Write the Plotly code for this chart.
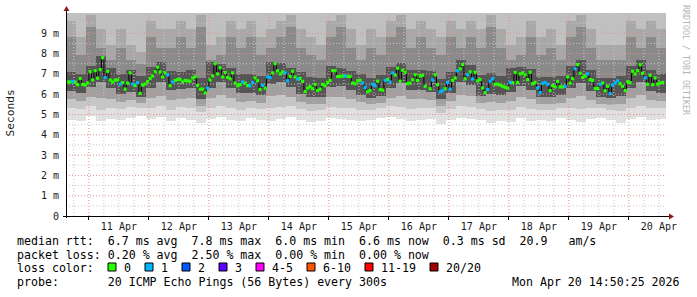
import pandas as pd
import plotly.graph_objects as go

# ---------------- data ----------------
T_START = pd.Timestamp("2026-04-10 14:50:25")
T_END = pd.Timestamp("2026-04-20 14:50:25")
STEP_START = pd.Timestamp("2026-04-10 15:00")   # first 1-hour median step

# median RTT per hour (ms); None = missing sample
median_ms = [
    6.6, 6.6, 6.63, 6.6, 6.47, 6.77, 6.48, 6.45, 6.56, 7.11,
    6.7, 7.16, 6.79, 7.21, 7.8, 6.82, 7.13, 6.7, 6.6, 6.7,
    6.7, 6.5, 6.57, 6.25, 6.55, 7.05, 6.5, 6.43, 6.57, 6.04,
    6.45, 6.5, 6.62, 6.77, 6.9, 7.11, 7.33, 7.1, 6.85, 7.05,
    6.95, 6.42, 6.6, 6.68, 6.72, 6.73, 6.6, 6.68, 6.66, 6.64,
    6.8, 6.86, 6.43, 6.25, 6.25, 6.07, 6.3, 6.7, 6.9, 7.5,
    7.0, 7.3, 6.85, 7.07, 6.83, 6.76, 7.05, 6.55, 6.42, 6.48,
    6.6, 6.55, 6.42, 6.42, 6.58, 6.8, 6.66, 6.23, 6.43, 6.3,
    6.85, 6.82, 7.05, 7.5, 7.15, 7.0, 7.1, 7.05, 6.66, 6.88,
    7.13, 6.85, 6.75, 6.78, 6.63, 6.13, 6.3, 6.37, 6.27, 6.48,
    6.18, 6.25, 6.48, 6.42, 6.58, 6.68, 7.16, 7.16, 6.87, 6.87,
    6.9, 6.9, 6.88, 6.87, 6.55, 6.52, 6.66, 6.68, 6.55, 6.33,
    6.12, 6.18, 6.49, 6.42, 6.64, 6.23, 6.2, 6.68, 6.72, 6.6,
    7.05, 6.95, 7.28, 6.64, 7.18, 7.08, 6.52, 6.55, 6.72, 6.96,
    6.68, 6.9, 6.93, 6.39, None, 6.27, 6.7, 6.95, 6.47, 6.12,
    6.17, 6.27, 6.58, 6.25, 6.68, 6.8, 7.15, 7.25, 7.46, 6.76,
    6.96, 7.1, 6.75, 7.08, 6.66, 6.72, 6.31, 6.08, 6.23, 6.64,
    6.76, 6.49, 6.49, 6.45, 6.39, 6.34, 6.3, 6.58, 6.57, 7.07,
    6.58, 7.0, 7.05, 6.95, 6.72, 7.08, 6.52, 6.58, 6.31, 6.08,
    6.54, 6.58, 6.49, 6.18, 6.42, 6.36, 6.63, 6.36, 6.36, 6.39,
    6.85, 6.55, 6.76, 7.25, 7.46, 7.03, 6.83, 6.9, 7.0, 6.72,
    6.68, 6.28, 6.28, 6.49, 6.55, 6.17, 6.39, 6.03, 6.45, 6.57,
    6.66, 6.52, 6.39, 6.18, 6.61, 6.57, 7.13, 7.0, 7.16, 7.45,
    7.03, 6.8, 6.49, 6.93, 6.47, 6.8, 6.5, 6.55, 6.58,
]

# lost pings (of 20) per hour
loss_pings = [
    0, 0, 1, 0, 0, 0, 0, 0, 0, 0,
    0, 0, 0, 0, 0, 1, 0, 0, 0, 0,
    0, 1, 0, 0, 0, 0, 1, 0, 1, 0,
    0, 0, 0, 0, 0, 0, 0, 0, 0, 0,
    1, 0, 1, 0, 0, 0, 0, 0, 0, 0,
    0, 0, 0, 0, 0, 0, 1, 0, 0, 0,
    0, 0, 0, 0, 0, 0, 0, 0, 0, 0,
    1, 0, 0, 1, 1, 0, 0, 0, 1, 0,
    1, 1, 0, 0, 0, 0, 0, 1, 1, 0,
    0, 0, 1, 0, 0, 0, 0, 0, 0, 0,
    0, 0, 0, 0, 0, 0, 0, 0, 0, 0,
    0, 1, 0, 0, 0, 0, 0, 0, 1, 1,
    0, 0, 1, 1, 0, 0, 0, 1, 0, 1,
    1, 0, 0, 0, 0, 0, 0, 0, 0, 0,
    0, 0, 0, 0, 0, 0, 1, 0, 0, 1,
    1, 0, 1, 1, 0, 0, 1, 0, 0, 0,
    1, 0, 1, 0, 0, 0, 0, 0, 1, 1,
    1, 0, 0, 0, 0, 0, 0, 1, 0, 0,
    0, 0, 0, 0, 0, 0, 0, 0, 1, 1,
    1, 1, 1, 0, 0, 0, 0, 0, 0, 1,
    0, 0, 0, 1, 0, 0, 0, 0, 1, 0,
    0, 0, 0, 1, 0, 0, 0, 1, 1, 1,
    1, 0, 0, 0, 0, 0, 0, 0, 0, 0,
    0, 1, 0, 0, 0, 0, 0, 0, 0,
]

# smoke (ping spread) per 4-hour column, ms: band edges from bottom to top
smoke_min = [4.75, 4.7, 4.95, 4.7, 4.8, 4.75, 4.85, 4.95, 4.8, 4.9,
             4.7, 4.85, 4.75, 4.6, 4.8, 4.9, 4.75, 4.7, 4.85, 4.75,
             4.7, 4.8, 4.9, 4.75, 4.65, 4.7, 4.85, 4.8, 4.75, 4.7,
             4.75, 4.85, 4.9, 4.8, 4.7, 4.75, 4.8, 4.55, 4.75, 4.85,
             4.8, 4.75, 4.6, 4.7, 4.65, 4.85, 4.7, 4.75, 4.7, 4.85,
             4.75, 4.65, 4.8, 4.85, 4.75, 4.6, 4.8, 4.9, 4.75, 4.8]
smoke_q1 = [5.3, 5.25, 5.4, 5.2, 5.3, 5.25, 5.35, 5.3, 5.3, 5.4,
            5.2, 5.35, 5.3, 5.1, 5.3, 5.4, 5.3, 5.2, 5.3, 5.25,
            5.3, 5.35, 5.4, 5.25, 5.15, 5.2, 5.35, 5.3, 5.3, 5.2,
            5.2, 5.3, 5.4, 5.35, 5.25, 5.3, 5.3, 5.05, 5.25, 5.4,
            5.35, 5.25, 5.15, 5.2, 5.2, 5.35, 5.25, 5.2, 5.2, 5.3,
            5.3, 5.25, 5.3, 5.3, 5.2, 5.15, 5.3, 5.4, 5.3, 5.3]
smoke_q2 = [5.75, 5.65, 5.85, 5.8, 5.75, 5.6, 5.7, 5.55, 5.8, 5.9,
            5.7, 5.75, 5.8, 5.4, 5.8, 5.95, 5.8, 5.6, 5.65, 5.55,
            5.9, 5.95, 5.85, 5.6, 5.5, 5.5, 5.85, 5.85, 5.75, 5.6,
            5.5, 5.55, 5.8, 5.9, 5.75, 5.75, 5.7, 5.4, 5.65, 5.95,
            5.9, 5.55, 5.6, 5.55, 5.65, 5.85, 5.75, 5.5, 5.5, 5.55,
            5.8, 5.9, 5.7, 5.5, 5.45, 5.5, 5.8, 5.95, 5.7, 5.65]
smoke_core_lo = [6.15, 6.05, 6.35, 6.6, 6.3, 6.0, 6.1, 5.85, 6.3, 6.6,
                 6.2, 6.25, 6.3, 5.75, 6.3, 6.6, 6.3, 6.05, 6.05, 5.95,
                 6.5, 6.6, 6.35, 6.0, 5.85, 5.85, 6.35, 6.4, 6.2, 5.95,
                 5.8, 5.9, 6.3, 6.55, 6.2, 6.2, 6.1, 5.75, 6.05, 6.6,
                 6.45, 5.9, 6.0, 5.95, 6.1, 6.4, 6.2, 5.85, 5.85, 5.95,
                 6.3, 6.55, 6.15, 5.85, 5.8, 5.9, 6.3, 6.6, 6.15, 6.05]
smoke_core_hi = [7.1, 7.0, 7.4, 7.9, 7.3, 7.0, 7.2, 6.9, 7.35, 7.6,
                 7.15, 7.1, 7.2, 6.8, 7.6, 7.5, 7.3, 7.0, 7.0, 6.9,
                 7.6, 7.55, 7.3, 7.1, 6.85, 6.8, 7.4, 7.3, 7.15, 7.0,
                 6.8, 6.95, 7.35, 7.55, 7.2, 7.2, 7.15, 6.75, 7.1, 7.7,
                 7.45, 6.95, 7.05, 6.9, 7.3, 7.35, 7.25, 6.85, 6.85, 6.9,
                 7.4, 7.7, 7.2, 6.8, 6.8, 6.9, 7.4, 7.7, 7.2, 7.0]
smoke_q5 = [8.8, 7.95, 9.3, 8.3, 7.7, 8.3, 7.7, 7.5, 8.8, 8.3,
            8.3, 8.8, 8.3, 9.3, 7.7, 7.95, 8.8, 8.3, 8.8, 7.95,
            8.3, 8.8, 9.3, 8.3, 7.95, 7.7, 8.8, 9.3, 8.3, 7.7,
            8.3, 7.95, 8.8, 9.3, 8.3, 8.8, 8.3, 7.95, 8.8, 8.3,
            8.8, 8.3, 9.3, 8.3, 7.7, 7.95, 8.8, 7.95, 8.3, 7.7,
            8.8, 9.3, 8.3, 7.7, 7.7, 7.7, 8.8, 8.3, 8.8, 8.3]
smoke_q6 = [9.6, 8.8, 9.9, 9.2, 8.4, 9.2, 8.4, 8.1, 9.6, 9.2,
            9.2, 9.6, 9.2, 9.9, 8.4, 8.8, 9.6, 9.2, 9.6, 8.8,
            9.2, 9.6, 9.9, 9.2, 8.8, 8.4, 9.6, 9.9, 9.2, 8.4,
            9.2, 8.8, 9.6, 9.9, 9.2, 9.6, 9.2, 8.8, 9.6, 9.2,
            9.6, 9.2, 9.9, 9.2, 8.4, 8.8, 9.6, 8.8, 9.2, 8.4,
            9.6, 9.9, 9.2, 8.4, 8.4, 8.4, 9.6, 9.2, 9.6, 9.2]

day_labels = ["11 Apr", "12 Apr", "13 Apr", "14 Apr", "15 Apr",
              "16 Apr", "17 Apr", "18 Apr", "19 Apr", "20 Apr"]
y_tick_vals = [0, 1, 2, 3, 4, 5, 6, 7, 8, 9]
y_tick_text = ["0", "1 m", "2 m", "3 m", "4 m", "5 m", "6 m", "7 m", "8 m", "9 m"]

stat_lines = [
    "median rtt:  6.7 ms avg  7.8 ms max  6.0 ms min  6.6 ms now  0.3 ms sd  20.9   am/s",
    "packet loss: 0.20 % avg  2.50 % max  0.00 % min  0.00 % now",
]
loss_legend = [("0", "#26ff00"), ("1", "#00b8ff"), ("2", "#0059ff"), ("3", "#5e00ff"),
               ("4-5", "#ff00ff"), ("6-10", "#ff5500"), ("11-19", "#ff0000"),
               ("20/20", "#a10000")]
probe_text = "probe:       20 ICMP Echo Pings (56 Bytes) every 300s"
stamp_text = "Mon Apr 20 14:50:25 2026"
watermark = "RRDTOOL / TOBI OETIKER"

# ---------------- layout constants ----------------
W, H = 697, 297
PL, PT, PW, PH = 66, 13, 600, 203
Y_TOP = 10.0
MONO = "DejaVu Sans Mono"


def px_x(x):
    return (x - PL) / PW


def px_y(y):
    return (PT + PH - y) / PH


def nb(s):
    return s.replace(" ", "\u00a0")


def loss_color(k):
    if k == 0:
        return "#26ff00"
    if k == 1:
        return "#00b8ff"
    if k == 2:
        return "#0059ff"
    if k == 3:
        return "#5e00ff"
    if k <= 5:
        return "#ff00ff"
    if k <= 10:
        return "#ff5500"
    if k <= 19:
        return "#ff0000"
    return "#a10000"


fig = go.Figure()

# ---- smoke ----
ncol = len(smoke_min)
col_t = pd.date_range(STEP_START + pd.Timedelta(hours=2), periods=ncol, freq="4h")
col_w = 4 * 3600 * 1000
top_edge = [Y_TOP] * ncol
bands = [
    (smoke_min, smoke_q1, "#e0e0e0"),
    (smoke_q1, smoke_q2, "#c6c6c6"),
    (smoke_q2, smoke_core_lo, "#a0a0a0"),
    (smoke_core_lo, smoke_core_hi, "#555555"),
    (smoke_core_hi, smoke_q5, "#8a8a8a"),
    (smoke_q5, smoke_q6, "#a8a8a8"),
    (smoke_q6, top_edge, "#c0c0c0"),
]
for lo, hi, col in bands:
    fig.add_trace(go.Bar(
        x=col_t, base=lo, y=[h - l for l, h in zip(lo, hi)], width=col_w,
        marker=dict(color=col, line=dict(width=0)), hoverinfo="skip",
        showlegend=False))

# ---- grid (above the smoke) ----
midnights = pd.date_range("2026-04-11", periods=10, freq="D")
six_h = [t for t in pd.date_range("2026-04-10 18:00", T_END, freq="6h") if t.hour != 0]


def vlines(ts):
    xs, ys = [], []
    for t in ts:
        xs += [t, t, None]
        ys += [0, Y_TOP, None]
    return xs, ys


def hlines(vs):
    xs, ys = [], []
    for v in vs:
        xs += [T_START, T_END, None]
        ys += [v, v, None]
    return xs, ys


minor_x, minor_y = vlines(six_h)
hx, hy = hlines([v + 0.5 for v in range(10)])
fig.add_trace(go.Scatter(x=minor_x + hx, y=minor_y + hy, mode="lines",
                         line=dict(color="#c8c8c8", width=1, dash="1px,2px"),
                         hoverinfo="skip", showlegend=False))
major_x, major_y = vlines(midnights)
hx, hy = hlines(range(1, 10))
fig.add_trace(go.Scatter(x=major_x + hx, y=major_y + hy, mode="lines",
                         line=dict(color="#e49090", width=1, dash="1px,2px"),
                         hoverinfo="skip", showlegend=False))

# ---- median ----
n = len(median_ms)
step_t = pd.date_range(STEP_START, periods=n, freq="h")
centers = step_t + pd.Timedelta(minutes=30)
fig.add_trace(go.Scatter(
    x=list(step_t) + [step_t[-1] + pd.Timedelta(hours=1)],
    y=median_ms + [median_ms[-1]], mode="lines", line_shape="hv",
    line=dict(color="#000000", width=1), connectgaps=False,
    hoverinfo="skip", showlegend=False))
for k in sorted(set(loss_pings)):
    xs = [c for c, m, l in zip(centers, median_ms, loss_pings) if l == k and m is not None]
    ys = [m for m, l in zip(median_ms, loss_pings) if l == k and m is not None]
    fig.add_trace(go.Scatter(
        x=xs, y=ys, mode="markers",
        marker=dict(symbol="square", size=3.2, color=loss_color(k), line=dict(width=0)),
        hoverinfo="skip", showlegend=False))

# ---- axes ----
fig.update_xaxes(
    type="date", range=[T_START, T_END], showgrid=False, zeroline=False,
    showline=False, tickmode="array",
    tickvals=pd.date_range("2026-04-11 12:00", periods=10, freq="D"),
    ticktext=day_labels, ticks="", tickfont=dict(family=MONO, size=10, color="#1a1a1a"),
    ticklabelstandoff=3,
    minor=dict(tickmode="array", tickvals=midnights, ticks="outside", ticklen=3,
               tickcolor="#000000", tickwidth=1, showgrid=False),
)
fig.update_yaxes(
    range=[0, Y_TOP], showgrid=False, zeroline=False, showline=False,
    tickmode="array", tickvals=y_tick_vals, ticktext=y_tick_text, ticks="",
    tickfont=dict(family=MONO, size=10, color="#1a1a1a"), ticklabelstandoff=6,
)

shapes = []
common = dict(xref="paper", yref="paper", xsizemode="pixel", ysizemode="pixel",
              xanchor=0, yanchor=0)
# axis lines
shapes.append(dict(type="line", x0=0.5, x1=0.5, y0=-2, y1=PH + 4,
                   line=dict(color="#000000", width=1), **common))
shapes.append(dict(type="line", x0=-3, x1=PW + 4, y0=-0.5, y1=-0.5,
                   line=dict(color="#000000", width=1), **common))
# arrows
shapes.append(dict(type="path", path=f"M -2.5 {PH + 2} L 3.5 {PH + 2} L 0.5 {PH + 7} Z",
                   fillcolor="#8b1a1a", line=dict(width=0), **common))
shapes.append(dict(type="path", path=f"M {PW + 3} 2.5 L {PW + 3} -3.5 L {PW + 8} -0.5 Z",
                   fillcolor="#8b1a1a", line=dict(width=0), **common))

annotations = []
text_font = dict(family=MONO, size=11.6, color="#000000")
line_y = [241, 255, 268, 282]
for s, y in zip(stat_lines, line_y[:2]):
    annotations.append(dict(text=nb(s), x=px_x(16), y=px_y(y), xref="paper", yref="paper",
                            xanchor="left", yanchor="middle", showarrow=False,
                            font=text_font, borderpad=0))
annotations.append(dict(text=nb("loss color:"), x=px_x(16), y=px_y(line_y[2]),
                        xref="paper", yref="paper", xanchor="left", yanchor="middle",
                        showarrow=False, font=text_font, borderpad=0))
bx = 108
for lab, col in loss_legend:
    shapes.append(dict(type="rect", x0=bx - PL, x1=bx - PL + 8,
                       y0=PT + PH - 271, y1=PT + PH - 263,
                       fillcolor=col, line=dict(color="#000000", width=1), **common))
    tx = bx + 15
    annotations.append(dict(text=nb(lab), x=px_x(tx), y=px_y(line_y[2]), xref="paper",
                            yref="paper", xanchor="left", yanchor="middle",
                            showarrow=False, font=text_font, borderpad=0))
    bx = tx + 7 * len(lab) + 15
annotations.append(dict(text=nb(probe_text), x=px_x(16), y=px_y(line_y[3]), xref="paper",
                        yref="paper", xanchor="left", yanchor="middle", showarrow=False,
                        font=text_font, borderpad=0))
annotations.append(dict(text=nb(stamp_text), x=px_x(681), y=px_y(line_y[3]), xref="paper",
                        yref="paper", xanchor="right", yanchor="middle", showarrow=False,
                        font=text_font, borderpad=0))
annotations.append(dict(text="Seconds", x=px_x(10), y=px_y(113.5), xref="paper",
                        yref="paper", xanchor="center", yanchor="middle", textangle=-90,
                        showarrow=False, font=dict(family=MONO, size=11.2, color="#1a1a1a"),
                        borderpad=0))
annotations.append(dict(text=nb(watermark), x=px_x(686), y=px_y(60), xref="paper",
                        yref="paper", xanchor="center", yanchor="middle", textangle=90,
                        showarrow=False, font=dict(family=MONO, size=8.3, color="#b4b4b4"),
                        borderpad=0))

fig.update_layout(
    width=W, height=H, margin=dict(l=PL, r=W - PL - PW, t=PT, b=H - PT - PH),
    paper_bgcolor="#ffffff", plot_bgcolor="#ffffff", barmode="overlay", bargap=0,
    showlegend=False, shapes=shapes, annotations=annotations, hovermode=False,
)

fig.write_html("out.html", config={"displayModeBar": False})
